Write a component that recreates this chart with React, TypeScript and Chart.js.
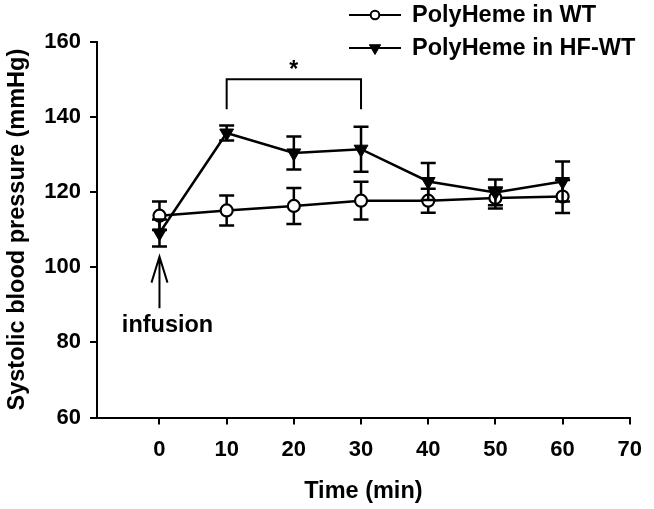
import React, { useEffect, useRef } from "react";
import { Chart, registerables } from "chart.js";

Chart.register(...registerables);

// ---- Data ----
const timePoints = [0, 10, 20, 30, 40, 50, 60];
const wtMean = [113.7, 115.1, 116.3, 117.7, 117.7, 118.4, 118.8];
const wtErr = [3.8, 4.0, 4.8, 5.0, 3.2, 2.8, 4.4];
const hfMean = [109.1, 135.7, 130.4, 131.4, 122.8, 119.9, 122.8];
const hfErr = [3.6, 2.0, 4.4, 6.0, 4.9, 3.4, 5.3];

const xTicks = [0, 10, 20, 30, 40, 50, 60, 70];
const yTicks = [60, 80, 100, 120, 140, 160];

const seriesLabels = ["PolyHeme in WT", "PolyHeme in HF-WT"];

// annotation values (in data units)
const bracketX = [10, 30];
const bracketTop = 150;
const bracketBottom = 142;
const starPos = { x: 20, y: 153.3, text: "*" };
const arrowX = 0;
const arrowTip = 102.8;
const arrowTail = 89.1;
const infusionLabel = { x: 1.2, y: 84.6, text: "infusion" };

const FONT = "'Liberation Sans', Arial, Helvetica, sans-serif";

function drawMarker(ctx: CanvasRenderingContext2D, style: string, x: number, y: number, r: number) {
  ctx.save();
  ctx.lineWidth = 2;
  ctx.strokeStyle = "#000";
  if (style === "circle") {
    ctx.fillStyle = "#fff";
    ctx.beginPath();
    ctx.arc(x, y, r, 0, Math.PI * 2);
    ctx.fill();
    ctx.stroke();
  } else {
    ctx.fillStyle = "#000";
    ctx.lineWidth = 1;
    ctx.beginPath();
    ctx.moveTo(x - r * 0.866, y - r * 0.5);
    ctx.lineTo(x + r * 0.866, y - r * 0.5);
    ctx.lineTo(x, y + r);
    ctx.closePath();
    ctx.fill();
    ctx.stroke();
  }
  ctx.restore();
}

export default function App() {
  const ref = useRef<HTMLCanvasElement>(null);

  useEffect(() => {
    document.body.style.margin = "0";
    const canvas = ref.current;
    if (!canvas) return;

    const errs = [wtErr, hfErr];
    const means = [wtMean, hfMean];

    const errorBars = {
      id: "errorBars",
      beforeDatasetDraw(chart: any, args: any) {
        const i = args.index;
        const { ctx } = chart;
        const xs = chart.scales.x;
        const ys = chart.scales.y;
        ctx.save();
        ctx.strokeStyle = "#000";
        ctx.lineWidth = 2.5;
        ctx.lineCap = "butt";
        timePoints.forEach((t, j) => {
          const px = xs.getPixelForValue(t);
          const top = ys.getPixelForValue(means[i][j] + errs[i][j]);
          const bot = ys.getPixelForValue(means[i][j] - errs[i][j]);
          ctx.beginPath();
          ctx.moveTo(px, top);
          ctx.lineTo(px, bot);
          ctx.moveTo(px - 7.5, top);
          ctx.lineTo(px + 7.5, top);
          ctx.moveTo(px - 7.5, bot);
          ctx.lineTo(px + 7.5, bot);
          ctx.stroke();
        });
        ctx.restore();
      },
    };

    const annotations = {
      id: "annotations",
      afterDatasetsDraw(chart: any) {
        const { ctx } = chart;
        const xs = chart.scales.x;
        const ys = chart.scales.y;
        ctx.save();
        ctx.strokeStyle = "#000";
        ctx.fillStyle = "#000";
        ctx.lineWidth = 2;
        // bracket
        const bx1 = xs.getPixelForValue(bracketX[0]);
        const bx2 = xs.getPixelForValue(bracketX[1]);
        const bt = ys.getPixelForValue(bracketTop);
        const bb = ys.getPixelForValue(bracketBottom);
        ctx.beginPath();
        ctx.moveTo(bx1, bb);
        ctx.lineTo(bx1, bt);
        ctx.lineTo(bx2, bt);
        ctx.lineTo(bx2, bb);
        ctx.stroke();
        ctx.font = `bold 23px ${FONT}`;
        ctx.textAlign = "center";
        ctx.textBaseline = "middle";
        ctx.fillText(starPos.text, xs.getPixelForValue(starPos.x), ys.getPixelForValue(starPos.y) + 4);
        // arrow
        const ax = xs.getPixelForValue(arrowX);
        const at = ys.getPixelForValue(arrowTip);
        const ab = ys.getPixelForValue(arrowTail);
        ctx.lineWidth = 2;
        ctx.beginPath();
        ctx.moveTo(ax, ab);
        ctx.lineTo(ax, at);
        ctx.moveTo(ax - 8, at + 26);
        ctx.lineTo(ax, at);
        ctx.lineTo(ax + 8, at + 26);
        ctx.stroke();
        // infusion label
        ctx.font = `bold 23.5px ${FONT}`;
        ctx.fillText(infusionLabel.text, xs.getPixelForValue(infusionLabel.x), ys.getPixelForValue(infusionLabel.y));
        ctx.restore();
      },
      afterDraw(chart: any) {
        // custom legend
        const { ctx } = chart;
        const rows = [15, 48];
        chart.data.datasets.forEach((ds: any, i: number) => {
          const y = rows[i];
          ctx.save();
          ctx.strokeStyle = "#000";
          ctx.lineWidth = 2.2;
          ctx.beginPath();
          ctx.moveTo(349, y);
          ctx.lineTo(401, y);
          ctx.stroke();
          ctx.restore();
          drawMarker(ctx, ds.pointStyle === "circle" ? "circle" : "tri", 375, y, ds.pointStyle === "circle" ? 4.3 : 6.5);
          ctx.save();
          ctx.fillStyle = "#000";
          ctx.font = `bold 23.5px ${FONT}`;
          ctx.textAlign = "left";
          ctx.textBaseline = "middle";
          ctx.fillText(ds.label, 412, y + 1);
          ctx.restore();
        });
      },
    };

    const chart = new Chart(canvas, {
      type: "line",
      data: {
        datasets: [
          {
            label: seriesLabels[0],
            data: timePoints.map((t, i) => ({ x: t, y: wtMean[i] })),
            borderColor: "#000",
            borderWidth: 2.5,
            pointStyle: "circle",
            pointRadius: 6,
            pointBorderWidth: 2.2,
            pointBackgroundColor: "#fff",
            pointBorderColor: "#000",
            tension: 0,
            order: 2,
          },
          {
            label: seriesLabels[1],
            data: timePoints.map((t, i) => ({ x: t, y: hfMean[i] })),
            borderColor: "#000",
            borderWidth: 2.5,
            pointStyle: "triangle",
            rotation: 180,
            pointRadius: 8,
            pointBorderWidth: 1,
            pointBackgroundColor: "#000",
            pointBorderColor: "#000",
            tension: 0,
            order: 1,
          } as any,
        ],
      },
      options: {
        responsive: false,
        animation: false,
        layout: { padding: { left: 0, right: 19.5, top: 41.7, bottom: 0 } },
        plugins: {
          legend: { display: false },
          tooltip: { enabled: false },
        },
        scales: {
          x: {
            type: "linear",
            min: -9.3,
            max: 70,
            afterBuildTicks: (scale: any) => {
              scale.ticks = xTicks.map((v) => ({ value: v }));
            },
            afterFit: (scale: any) => {
              scale.height = 91.5;
            },
            grid: {
              display: true,
              drawOnChartArea: false,
              drawTicks: true,
              tickLength: 7,
              color: "#000",
              lineWidth: 2,
            },
            border: { display: true, color: "#000", width: 2 },
            ticks: {
              color: "#000",
              font: { family: FONT, size: 22, weight: "bold" },
              padding: 12,
              maxRotation: 0,
            },
            title: {
              display: true,
              text: "Time (min)",
              color: "#000",
              font: { family: FONT, size: 23.5, weight: "bold" },
              padding: { top: 0, bottom: 3 },
            },
          },
          y: {
            type: "linear",
            min: 60,
            max: 160,
            afterBuildTicks: (scale: any) => {
              scale.ticks = yTicks.map((v) => ({ value: v }));
            },
            afterFit: (scale: any) => {
              scale.width = 97;
            },
            grid: {
              display: true,
              drawOnChartArea: false,
              drawTicks: true,
              tickLength: 7,
              color: "#000",
              lineWidth: 2,
            },
            border: { display: true, color: "#000", width: 2 },
            ticks: {
              color: "#000",
              font: { family: FONT, size: 22, weight: "bold" },
              padding: 9,
            },
            title: {
              display: true,
              text: "Systolic blood pressure (mmHg)",
              color: "#000",
              font: { family: FONT, size: 23.5, weight: "bold" },
              padding: { top: 3, bottom: 0 },
            },
          },
        },
      } as any,
      plugins: [errorBars, annotations],
    });

    return () => chart.destroy();
  }, []);

  return (
    <div style={{ position: "absolute", left: 0, top: 0, width: 654, height: 509, background: "#fff" }}>
      <canvas ref={ref} width={654} height={509} style={{ display: "block" }} />
    </div>
  );
}
